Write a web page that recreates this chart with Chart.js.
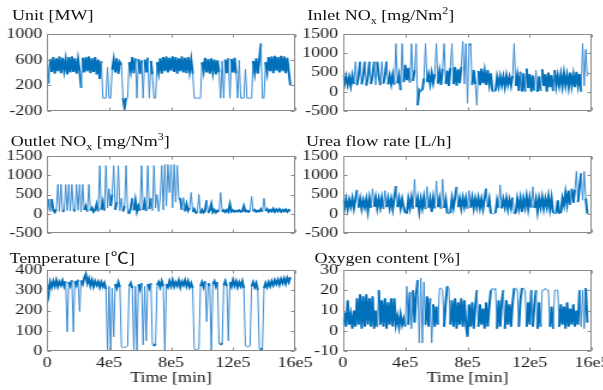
<!DOCTYPE html>
<html>
<head>
<meta charset="utf-8">
<script src="https://cdn.jsdelivr.net/npm/chart.js@4.4.0/dist/chart.umd.min.js"></script>
<style>
  html, body { margin: 0; padding: 0; background: #fff; overflow: hidden; }
  /* the reference is a bit stretched sideways, so the whole figure is drawn narrow and widened */
  #wrap { position: absolute; left: 0; top: 0; width: 503px; height: 390px; transform: scaleX(1.2); transform-origin: 0 0; }
  #wrap canvas { position: absolute; left: 0; top: 0; }
  .ttl { position: absolute; font: 15px "Liberation Serif", "Times New Roman", "Noto Sans CJK SC", serif; line-height: 16px; color: #111; white-space: nowrap; }
  .ttl sub, .ttl sup { font-size: 10px; line-height: 0; }
</style>
</head>
<body>
<div id="wrap">
  <div class="ttl" style="left:10px;top:7px">Unit [MW]</div>
  <div class="ttl" style="left:256px;top:7px">Inlet NO<sub>x</sub> [mg/Nm<sup>2</sup>]</div>
  <div class="ttl" style="left:9px;top:133px">Outlet NO<sub>x</sub> [mg/Nm<sup>3</sup>]</div>
  <div class="ttl" style="left:255px;top:133px">Urea flow rate [L/h]</div>
  <div class="ttl" style="left:8px;top:250px">Temperature [℃]</div>
  <div class="ttl" style="left:262px;top:250px">Oxygen content [%]</div>
</div>
<script>
// --- 1. Data (one sample every 1e4 min) ---
const tStep = 10000;

const unitMW = [
  560, 230, 610, 410, 640, 380, 620, 420, 650, 390,
  630, 430, 600, 370, 640, 400, 650, 410, 620, 380,
  600, 420, 160, 630, 400, 640, 420, 650, 390, 620,
  410, 640, 370, 600, 300, 580, 0, 0, 0, 480,
  0, 0, 440, 600, 400, 620, 380, 560, 520, 0,
  -150, 0, 0, 560, 420, 640, 390, 620, 0, 610,
  380, 590, 0, 600, 400, 630, 0, 580, 370, 0,
  0, 560, 400, 620, 380, 640, 420, 650, 400, 630,
  430, 650, 410, 640, 380, 620, 420, 650, 400, 630,
  390, 640, 420, 600, 380, 0, 0, 0, 0, 0,
  560, 420, 630, 400, 610, 380, 620, 410, 600, 370,
  590, 400, 0, 580, 0, 600, 390, 620, 0, 610,
  400, 630, 380, 0, 590, 0, 0, 0, 450, 0,
  0, 0, 0, 580, 400, 620, 380, 600, 850, 0,
  0, 560, 400, 640, 420, 650, 390, 660, 430, 640,
  400, 660, 420, 650, 390, 630, 410, 200
];

const inletNOx = [
  450, 200, 400, 180, 380, 150, 420, 200, 780, 170,
  400, 780, 190, 410, 780, 160, 390, 780, 200, 420,
  780, 180, 780, 400, 170, 780, 210, 430, 780, 190,
  420, 200, 440, 180, 1250, 220, 430, 40, 1250, 250,
  700, 300, 620, 240, 1250, 280, 560, 1250, -350, 50,
  0, 40, 350, 1250, 250, 450, 200, 480, 230, 460,
  1250, 210, 520, 180, 600, 1250, 200, 550, 150, 620,
  1250, 200, 640, 160, 580, 220, 650, 1300, 200, 1250,
  -300, 1200, 1250, 180, 560, 200, -350, 540, 170, 600,
  220, 530, 180, 560, 200, 480, 10, 0, 20, 380,
  150, 400, 170, 390, 130, 420, 190, 380, 160, 410,
  1250, 150, 430, 20, 520, 10, 480, 0, 600, 100,
  460, 0, 420, 30, 560, 0, 400, 20, 580, 150,
  450, 0, 500, 120, 430, 20, 560, 150, 420, 160,
  450, 140, 480, 170, 430, 130, 500, 160, 440, 120,
  520, 170, 460, 0, 1250, 150, 1100, 400
];

const outletNOx = [
  80, 380, 60, 380, 90, 40, 120, 760, 60, 760,
  100, 50, 760, 80, 760, 70, 760, 120, 60, 760,
  90, 760, 50, 760, 100, 200, 60, 760, 80, 150,
  50, 100, 250, 60, 1250, 100, 300, 80, 1250, 150,
  650, 200, 500, 1250, 100, 300, 1250, 80, 400, 60,
  200, 1250, 30, 20, 150, 400, 90, 350, 60, 200,
  80, 1250, 100, 300, 70, 1250, 120, 400, 80, 1250,
  150, 500, 60, 420, 1250, 100, 1280, 200, 1280, 550,
  1270, 150, 1280, 300, 1250, 400, 380, 100, 420, 60,
  250, 80, 150, 550, 50, 120, 30, 20, 500, 10,
  100, 30, 80, 350, 20, 90, 250, 40, 100, 30,
  80, 60, 550, 50, 90, 40, 100, 50, 250, 60,
  90, 50, 80, 60, 90, 50, 70, 200, 60, 80,
  50, 90, 450, 60, 100, 50, 80, 60, 120, 50,
  400, 70, 120, 50, 100, 60, 130, 50, 110, 60,
  120, 50, 100, 60, 110, 50, 100, 70
];

const ureaFlow = [
  350, 150, 380, 120, 360, 180, 400, 140, 370, 620,
  160, 390, 130, 350, 170, 380, 60, 400, 150, 650,
  180, 420, 140, 390, 160, 410, 130, 600, 170, 400,
  150, 380, 120, 410, 720, 170, 400, 140, 380, 160,
  20, 0, 380, 150, 420, 130, 900, 170, 400, 60,
  380, 150, 430, 120, 700, 160, 390, 50, 410, 140,
  850, 170, 400, 130, 900, 150, 380, 10, 0, 20,
  400, 160, 420, 700, 170, 390, 140, 410, 180, 400,
  130, 600, 160, 420, 140, 390, 170, 410, 150, 380,
  130, 400, 650, 170, 380, 10, 0, 0, 20, 350,
  160, 750, 140, 380, 170, 400, 120, 360, 150, 420,
  0, 30, 380, 140, 400, 50, 390, 170, 450, 130,
  420, 160, 700, 150, 380, 60, 400, 170, 430, 140,
  390, 170, 450, 120, 410, 20, 0, 10, 350, 0,
  20, 400, 220, 550, 250, 600, 230, 650, 280, 620,
  1100, 300, 700, 1050, 350, 1100, 400, 0
];

const temperature = [
  330, 280, 340, 315, 345, 320, 350, 318, 342, 325,
  348, 320, 345, 95, 340, 322, 350, 95, 345, 325,
  352, 195, 348, 330, 360, 380, 335, 358, 322, 350,
  318, 345, 325, 342, 315, 340, 318, 336, 305, 0,
  320, 0, 310, 70, 330, 310, 340, 315, 20, 15,
  20, 18, 25, 320, 335, 310, 0, 320, 0, 330,
  305, 335, 30, 320, 50, 330, 310, 335, 30, 25,
  35, 325, 340, 315, 345, 320, 0, 330, 315, 345,
  320, 350, 318, 340, 322, 348, 315, 342, 325, 350,
  320, 345, 315, 335, 310, 10, 5, 8, 10, 320,
  340, 315, 345, 145, 335, 320, 0, 330, 345, 318,
  340, 35, 30, 40, 325, 345, 320, 50, 340, 318,
  350, 322, 345, 315, 340, 320, 345, 310, 25, 20,
  22, 25, 320, 340, 315, 335, 300, 10, 5, 15,
  310, 335, 315, 340, 320, 345, 325, 350, 330, 352,
  328, 355, 335, 358, 332, 360, 340, 365
];

const oxygen = [
  3, 9, 2, 15, 3, 8, 1, 10, 2, 16,
  3, 18, 1, 17, 2, 18, 3, 16, 2, 17,
  1, 10, 2, 20, 3, 15, 2, 16, 1, 14,
  3, 16, 2, 16, 3, 7, 2, 8, 3, 6,
  2, 22, 3, 19, 1, 20, 4, 18, 25, -6,
  26, -6, 24, 3, 17, 2, 16, -6, 13, 2,
  12, 3, 21, 21, 20, 2, 14, 22, 21, 3,
  15, 2, 16, 1, 14, 3, 16, 2, 15, 3,
  -3, 13, 2, 14, 1, 12, 20, 2, 13, 3,
  11, 1, 14, 2, 12, 20, 21, 20, 21, 1,
  15, 2, 14, 20, 1, 15, 3, 13, 2, 14,
  21, 21, 20, 2, 15, 21, 21, 20, 2, 14,
  3, 20, 2, 13, 20, 1, 14, 2, 20, 20,
  21, 20, 20, 2, 12, 1, 20, 20, 20, 2,
  13, 3, 12, 1, 14, 2, 11, 3, 13, 2,
  10, 3, 20, 2, 20, 1, 21, 4
];

// tick labels
const xTickValues = [0, 400000, 800000, 1200000, 1600000];
const xTickLabels = ['0', '4e5', '8e5', '12e5', '16e5'];
const unitTicks = [-200, 200, 600, 1000];
const noxTicks = [-500, 0, 500, 1000, 1500];
const ureaTicks = [-500, 0, 500, 1000, 1500];
const tempTicks = [0, 100, 200, 300, 400];
const oxyTicks = [-10, 0, 10, 20, 30];

// --- 2. Layout (unstretched px) ---
const W = 503, H = 390;
const yAxisW = 36;
const xAxisH = 36;
const lineBlue = '#0070BA';
const spikeBlue = '#3a8bd0';
const frameGray = '#8a8a8a';
const tickFont = { family: "'Liberation Serif', 'Times New Roman', serif", size: 15 };

const colL = { left: 39.2, right: 245.8 };
const colR = { left: 285.8, right: 493.3 };

// spike / flat: jumps bigger than "spike" or steps smaller than "flat" are drawn as thin lines,
// everything else is the dense noise band and gets a heavier stroke
const panels = [
  { values: unitMW,      yTicks: unitTicks, col: colL, top: 34,  bottom: 111, showX: false, spike: 350,  flat: 5 },
  { values: inletNOx,    yTicks: noxTicks,  col: colR, top: 34,  bottom: 111, showX: false, spike: 500,  flat: 50 },
  { values: outletNOx,   yTicks: noxTicks,  col: colL, top: 156, bottom: 233, showX: false, spike: 300,  flat: -1 },
  { values: ureaFlow,    yTicks: ureaTicks, col: colR, top: 156, bottom: 233, showX: false, spike: 400,  flat: 25 },
  { values: temperature, yTicks: tempTicks, col: colL, top: 270, bottom: 351, showX: true,  spike: 100,  flat: 8 },
  { values: oxygen,      yTicks: oxyTicks,  col: colR, top: 270, bottom: 351, showX: true,  spike: 17.5, flat: 1.5 }
];

// MATLAB style box with inward ticks on all four sides
const boxPlugin = {
  id: 'matlabBox',
  afterDraw(chart) {
    const { ctx, chartArea: a, scales: { x, y } } = chart;
    const L = Math.round(a.left) + 0.5, R = Math.round(a.right) - 0.5;
    const T = Math.round(a.top) + 0.5, B = Math.round(a.bottom) - 0.5;
    ctx.save();
    ctx.strokeStyle = frameGray;
    ctx.lineWidth = 1;
    ctx.strokeRect(L, T, R - L, B - T);
    ctx.beginPath();
    xTickValues.forEach(v => {
      const px = Math.round(x.getPixelForValue(v)) + 0.5;
      ctx.moveTo(px, T); ctx.lineTo(px, T + 3);
      ctx.moveTo(px, B); ctx.lineTo(px, B - 3);
    });
    y.ticks.forEach(t => {
      const py = Math.round(y.getPixelForValue(t.value)) + 0.5;
      ctx.moveTo(L, py); ctx.lineTo(L + 3, py);
      ctx.moveTo(R, py); ctx.lineTo(R - 3, py);
    });
    ctx.stroke();
    ctx.restore();
  }
};

// --- 3. Build the six panels ---
const wrap = document.getElementById('wrap');

panels.forEach(p => {
  const cv = document.createElement('canvas');
  cv.width = W;
  cv.height = H;
  wrap.appendChild(cv);

  const yMin = p.yTicks[0];
  const yMax = p.yTicks[p.yTicks.length - 1];
  const isThin = c => {
    const d = Math.abs(c.p1.parsed.y - c.p0.parsed.y);
    return d > p.spike || d < p.flat;
  };

  new Chart(cv, {
    type: 'line',
    data: {
      datasets: [{
        data: p.values.map((v, i) => ({ x: i * tStep, y: v })),
        borderColor: lineBlue,
        borderWidth: 2,
        pointRadius: 0,
        tension: 0,
        segment: {
          borderWidth: c => isThin(c) ? 1 : 2,
          borderColor: c => isThin(c) ? spikeBlue : lineBlue
        }
      }]
    },
    options: {
      responsive: false,
      animation: false,
      devicePixelRatio: 1,
      events: [],
      layout: {
        padding: {
          left: p.col.left - yAxisW,
          right: W - p.col.right,
          top: p.top,
          bottom: H - p.bottom - (p.showX ? xAxisH : 0)
        }
      },
      plugins: { legend: { display: false }, tooltip: { enabled: false } },
      scales: {
        x: {
          type: 'linear',
          min: 0,
          max: 1600000,
          grid: { display: false, drawTicks: false },
          border: { display: false },
          ticks: {
            display: p.showX,
            maxRotation: 0,
            autoSkip: false,
            padding: 3,
            color: '#1a1a1a',
            font: tickFont,
            callback: (v, i) => xTickLabels[i]
          },
          title: { display: p.showX, text: 'Time [min]', color: '#1a1a1a', font: tickFont, padding: 0 },
          afterBuildTicks: s => { s.ticks = xTickValues.map(v => ({ value: v })); },
          afterFit: s => {
            s.height = p.showX ? xAxisH : 0;
            s.paddingLeft = 0;
            s.paddingRight = 0;
          }
        },
        y: {
          min: yMin,
          max: yMax,
          grid: { display: false, drawTicks: false },
          border: { display: false },
          ticks: {
            autoSkip: false,
            padding: 4,
            color: '#1a1a1a',
            font: tickFont,
            callback: v => String(v)
          },
          afterBuildTicks: s => { s.ticks = p.yTicks.map(v => ({ value: v })); },
          afterFit: s => {
            s.width = yAxisW;
            s.paddingTop = 0;
            s.paddingBottom = 0;
          }
        }
      }
    },
    plugins: [boxPlugin]
  });
});
</script>
</body>
</html>
